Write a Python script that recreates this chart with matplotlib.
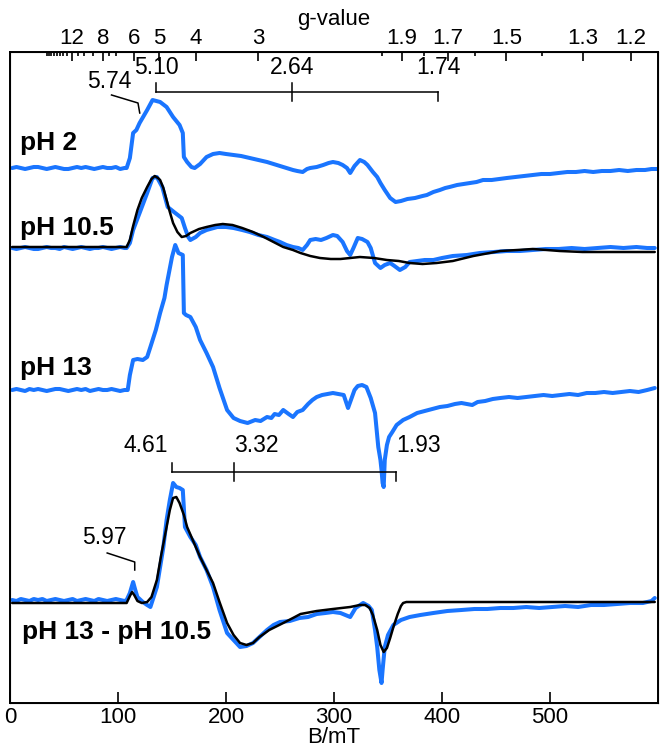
import numpy as np
import matplotlib
matplotlib.use("Agg")
import matplotlib.pyplot as plt

plt.rcParams['font.family'] = ['Liberation Sans', 'DejaVu Sans']

# g = C / B  (C in mT, X-band ~9.65 GHz)
C_G = 689.5

# ---------------- data (B in mT, intensity in arbitrary units) ----------------
base_B = [2, 6, 10, 14, 18, 22, 26, 30, 34, 38, 42, 46, 50, 54, 58, 62, 66, 70, 74, 78,
          82, 86, 90, 94, 98, 102, 106, 108]

ph2_B = base_B + [111, 114, 117, 120, 127, 132, 139, 145, 151, 157, 160, 161, 164, 168,
                  171, 176, 182, 188, 194, 200, 207, 214, 222, 230, 238, 244, 250, 256, 262,
                  266, 271, 275, 278, 284, 290, 295, 299, 304, 308, 312, 315, 319, 324, 328,
                  331, 336, 340, 343, 347, 352, 357, 362, 368, 375, 382, 386, 392, 398, 403,
                  407, 414, 420, 426, 432, 438, 446, 453, 460, 468, 476, 484, 492, 500, 508,
                  516, 524, 532, 540, 548, 556, 564, 572, 580, 588, 594, 599]
ph2_I = [0, 1, 0, -1, 0, 1, 1, 0, -1, 0, 1, 0, -1, -1, 0, 1, 0, 1, 0, -1,
         0, 1, 0, 0, 1, -1, 0, 0] + \
        [10, 35, 38, 45, 58, 68, 66, 61, 51, 43, 35, 11, 6, 1,
         0, 4, 11, 14, 15, 14, 13, 12, 10, 8, 6, 4, 2, 0, -2,
         -3, -4, -1, 0, 1, 3, 5, 6, 5, 3, 0, -5, 2, 8, 6,
         3, -4, -9, -15, -22, -30, -34, -33, -31, -30, -28, -27, -24, -22, -20,
         -19, -17, -16, -15, -14, -12, -12, -11, -10, -9, -8, -7, -6, -6, -5,
         -4, -4, -3, -4, -3, -3, -2, -3, -2, -2, -1, -1]

ph105_B = base_B + [111, 114, 120, 127, 132, 136, 141, 146, 153, 159, 162, 165, 167, 172,
                    176, 182, 192, 200, 207, 215, 222, 230, 238, 245, 250, 256, 262, 267,
                    271, 275, 278, 283, 288, 293, 299, 303, 308, 312, 315, 318, 322, 326,
                    331, 334, 338, 343, 347, 352, 356, 361, 366, 370, 377, 384, 392, 400,
                    410, 423, 435, 448, 460, 472, 484, 496, 508, 520, 532, 544, 556, 568,
                    580, 590, 597]
ph105_I = [0, -1, 0, 1, 0, -1, -1, 0, 1, 0, 0, -1, 1, 0, -1, 0, 1, 0, -1, 0,
           0, 1, 0, -1, 0, 1, 0, 0] + \
          [5, 18, 35, 55, 70, 71, 61, 41, 35, 30, 20, 11, 8, 11,
           15, 18, 21, 21, 20, 18, 16, 13, 11, 8, 6, 3, 1, 0,
           -2, 3, 8, 9, 8, 10, 13, 12, 6, -3, -7, 0, 10, 9,
           6, 0, -15, -20, -17, -15, -18, -22, -19, -14, -13, -12, -12, -10,
           -8, -7, -5, -4, -3, -3, -2, -1, -1, 0, -1, 0, 1, 0,
           1, 0, 0]

fit105_B = [2, 108, 111, 114, 118, 122, 127, 131, 134, 137, 139, 142, 145, 148, 151, 155,
            159, 163, 167, 175, 182, 190, 197, 206, 215, 225, 235, 244, 253, 262, 269, 278,
            287, 297, 306, 315, 324, 337, 349, 360, 370, 382, 395, 410, 429, 444, 454, 470,
            484, 497, 509, 530, 562, 597]
fit105_I = [1, 1, 8, 22, 38, 50, 61, 69, 72, 70, 68, 60, 48, 36, 25, 16,
            11, 12, 15, 19, 21, 23, 24, 23, 20, 16, 11, 6, 1, -2, -5, -8,
            -10, -11, -11, -10, -9, -10, -12, -13, -15, -16, -15, -13, -8, -5, -3, -2,
            -1, -2, -3, -4, -4, -4]

ph13_B = base_B + [109, 111, 114, 118, 123, 127, 130, 135, 139, 143, 145, 150, 153, 156,
                   160, 161, 163, 167, 172, 176, 182, 188, 194, 201, 207, 213, 220, 227,
                   232, 238, 242, 245, 249, 253, 258, 262, 266, 271, 276, 280, 284, 289,
                   294, 299, 304, 309, 313, 317, 319, 322, 326, 330, 334, 338, 341, 343,
                   344, 345, 346, 347, 349, 351, 354, 358, 364, 370, 377, 384, 391, 398,
                   405, 412, 418, 423, 428, 433, 440, 447, 454, 462, 470, 478, 486, 494,
                   502, 510, 518, 526, 534, 542, 550, 558, 566, 574, 582, 590, 597]
ph13_I = [0, 1, 0, -1, 1, 0, 1, 0, -1, 0, 1, 1, 0, -1, 0, 1, 0, 1, -1, 0,
          1, 0, 0, 1, 0, -1, 0, 0] + \
         [0, 15, 30, 31, 30, 33, 43, 60, 77, 92, 105, 133, 145, 137,
          135, 77, 75, 73, 63, 50, 37, 23, 2, -20, -28, -31, -33, -30,
          -31, -27, -28, -24, -25, -20, -24, -27, -22, -20, -14, -10, -7, -5,
          -4, -3, -4, -5, -18, -6, 0, 4, 5, 3, -8, -23, -57, -70,
          -80, -93, -97, -70, -55, -47, -42, -35, -30, -27, -23, -21, -19, -17,
          -16, -14, -13, -14, -15, -12, -11, -9, -8, -7, -8, -7, -6, -5,
          -6, -5, -4, -5, -3, -3, -2, -3, -2, -1, -2, 0, 2]

diff_B = base_B + [111, 114, 116, 118, 123, 127, 130, 136, 142, 145, 148, 151, 154, 157,
                   160, 162, 167, 172, 176, 182, 188, 194, 201, 207, 213, 219, 225, 231,
                   238, 244, 250, 259, 268, 276, 284, 292, 299, 306, 315, 320, 327, 332,
                   335, 338, 340, 342, 344, 345, 347, 350, 355, 362, 370, 380, 392, 405,
                   418, 430, 442, 454, 466, 478, 490, 502, 514, 526, 538, 550, 562, 574,
                   586, 594, 597]
diff_I = [0, -1, 1, 0, -1, 1, 0, 1, -1, 0, 1, 0, -1, 0, 1, -1, 0, 1, 0, -1,
          1, 0, -1, 0, 1, 0, -1, 0] + \
         [7, 18, 10, 3, -2, -5, -7, 13, 53, 80, 100, 117, 113, 112,
          110, 73, 63, 55, 43, 30, 13, -10, -33, -40, -47, -46, -43, -37,
          -30, -25, -22, -21, -18, -17, -14, -13, -12, -13, -17, -8, -3, -6,
          -10, -30, -47, -70, -83, -70, -47, -35, -25, -20, -17, -15, -13, -11,
          -10, -9, -9, -8, -8, -7, -8, -7, -6, -7, -5, -5, -4, -3,
          -3, -1, 2]

fitd_B = [2, 108, 111, 113, 115, 118, 122, 127, 131, 136, 140, 145, 148, 151, 154, 157,
          161, 164, 170, 176, 182, 188, 194, 201, 207, 213, 219, 225, 231, 240, 253, 262,
          269, 284, 299, 315, 324, 329, 333, 336, 340, 343, 346, 349, 352, 355, 359, 362,
          364, 367, 597]
fitd_I = [-3, -3, 4, 8, 5, -1, -3, -2, 3, 20, 45, 73, 90, 102, 103, 97,
          85, 73, 58, 43, 30, 17, -2, -23, -35, -43, -45, -43, -37, -30, -23, -18,
          -14, -11, -9, -7, -5, -5, -8, -15, -30, -45, -52, -48, -38, -27, -14, -6,
          -3, -2, -2]

# vertical offsets of the stacked spectra
offsets = {'ph2': 537, 'ph105': 457, 'ph13': 315, 'diff': 105}

# g-value axis ticks
g_major = [12, 8, 6, 5, 4, 3, 1.9, 1.7, 1.5, 1.3, 1.2]
g_major_labels = ['12', '8', '6', '5', '4', '3', '1.9', '1.7', '1.5', '1.3', '1.2']
g_minor = [20, 19, 18, 17, 16, 15, 14, 13, 11, 10, 9, 7.5, 7, 2.0, 1.8, 1.6, 1.4]

bracket1_g = [5.10, 2.64, 1.74]
bracket2_g = [4.61, 3.32, 1.93]

BLUE = '#1a75ff'

fig = plt.figure(figsize=(6.64, 7.5), dpi=100)
ax = fig.add_axes([10 / 664, 47 / 750, 648 / 664, 651 / 750])

def trace(B, I, off, color, lw, z):
    ax.plot(np.array(B), np.array(I) + off, color=color, lw=lw, zorder=z,
            solid_joinstyle='round', solid_capstyle='round')

trace(ph2_B, ph2_I, offsets['ph2'], BLUE, 2.9, 2)
trace(ph105_B, ph105_I, offsets['ph105'], BLUE, 2.9, 2)
trace(fit105_B, fit105_I, offsets['ph105'], 'black', 1.8, 3)
trace(ph13_B, ph13_I, offsets['ph13'], BLUE, 2.9, 2)
trace(diff_B, diff_I, offsets['diff'], BLUE, 2.9, 2)
trace(fitd_B, fitd_I, offsets['diff'], 'black', 1.8, 3)

ax.set_xlim(0, 600)
ax.set_ylim(2, 653)
ax.set_yticks([])
ax.set_xticks([0, 100, 200, 300, 400, 500])
ax.tick_params(axis='x', direction='in', length=8, width=1.2, labelsize=16, pad=3)
ax.set_xlabel('B/mT', fontsize=16, labelpad=-1)
for s in ax.spines.values():
    s.set_linewidth(1.4)

# top g-value axis
ax2 = ax.twiny()
ax2.set_xlim(ax.get_xlim())
ax2.set_xticks([C_G / g for g in g_major])
ax2.set_xticklabels(g_major_labels)
ax2.set_xticks([C_G / g for g in g_minor], minor=True)
ax2.tick_params(axis='x', which='major', direction='in', length=6.5, width=1.2,
                labelsize=16, pad=2)
ax2.tick_params(axis='x', which='minor', direction='in', length=3, width=1.2)
ax2.set_xlabel('g-value', fontsize=16, labelpad=2)

# brackets
def bracket(gs, y, h):
    xs = [C_G / g for g in gs]
    ax.plot([xs[0], xs[-1]], [y, y], color='black', lw=1.1, zorder=4)
    ax.plot([xs[0], xs[0]], [y, y + h], color='black', lw=1.1, zorder=4)
    ax.plot([xs[1], xs[1]], [y + h, y - h], color='black', lw=1.1, zorder=4)
    ax.plot([xs[-1], xs[-1]], [y, y - h], color='black', lw=1.1, zorder=4)

bracket(bracket1_g, 613, 9)
bracket(bracket2_g, 233, 9)

fs = 16.5
ax.text(C_G / 5.10, 638, '5.10', fontsize=fs, ha='center', va='center', zorder=5)
ax.text(C_G / 2.64, 638, '2.64', fontsize=fs, ha='center', va='center', zorder=5)
ax.text(C_G / 1.74, 638, '1.74', fontsize=fs, ha='center', va='center', zorder=5)
ax.text(92, 624, '5.74', fontsize=fs, ha='center', va='center', zorder=5)
ax.plot([94, 118.5, C_G / 5.74], [610, 602, 592], color='black', lw=1.1, zorder=4)

ax.text(C_G / 4.61 - 3, 259, '4.61', fontsize=fs, ha='right', va='center', zorder=5)
ax.text(C_G / 3.32, 259, '3.32', fontsize=fs, ha='left', va='center', zorder=5)
ax.text(C_G / 1.93, 259, '1.93', fontsize=fs, ha='left', va='center', zorder=5)

ax.text(87, 168, '5.97', fontsize=fs, ha='center', va='center', zorder=5)
ax.plot([90, C_G / 5.97, C_G / 5.97], [152, 143, 135], color='black', lw=1.1, zorder=4)

lab = dict(fontsize=19, fontweight='bold', ha='left', va='center', zorder=5)
ax.text(9.3, 562, 'pH 2', **lab)
ax.text(9.3, 477, 'pH 10.5', **lab)
ax.text(9.3, 337, 'pH 13', **lab)
ax.text(11, 73, 'pH 13 - pH 10.5', **lab)

fig.savefig('out.png', dpi=100)
